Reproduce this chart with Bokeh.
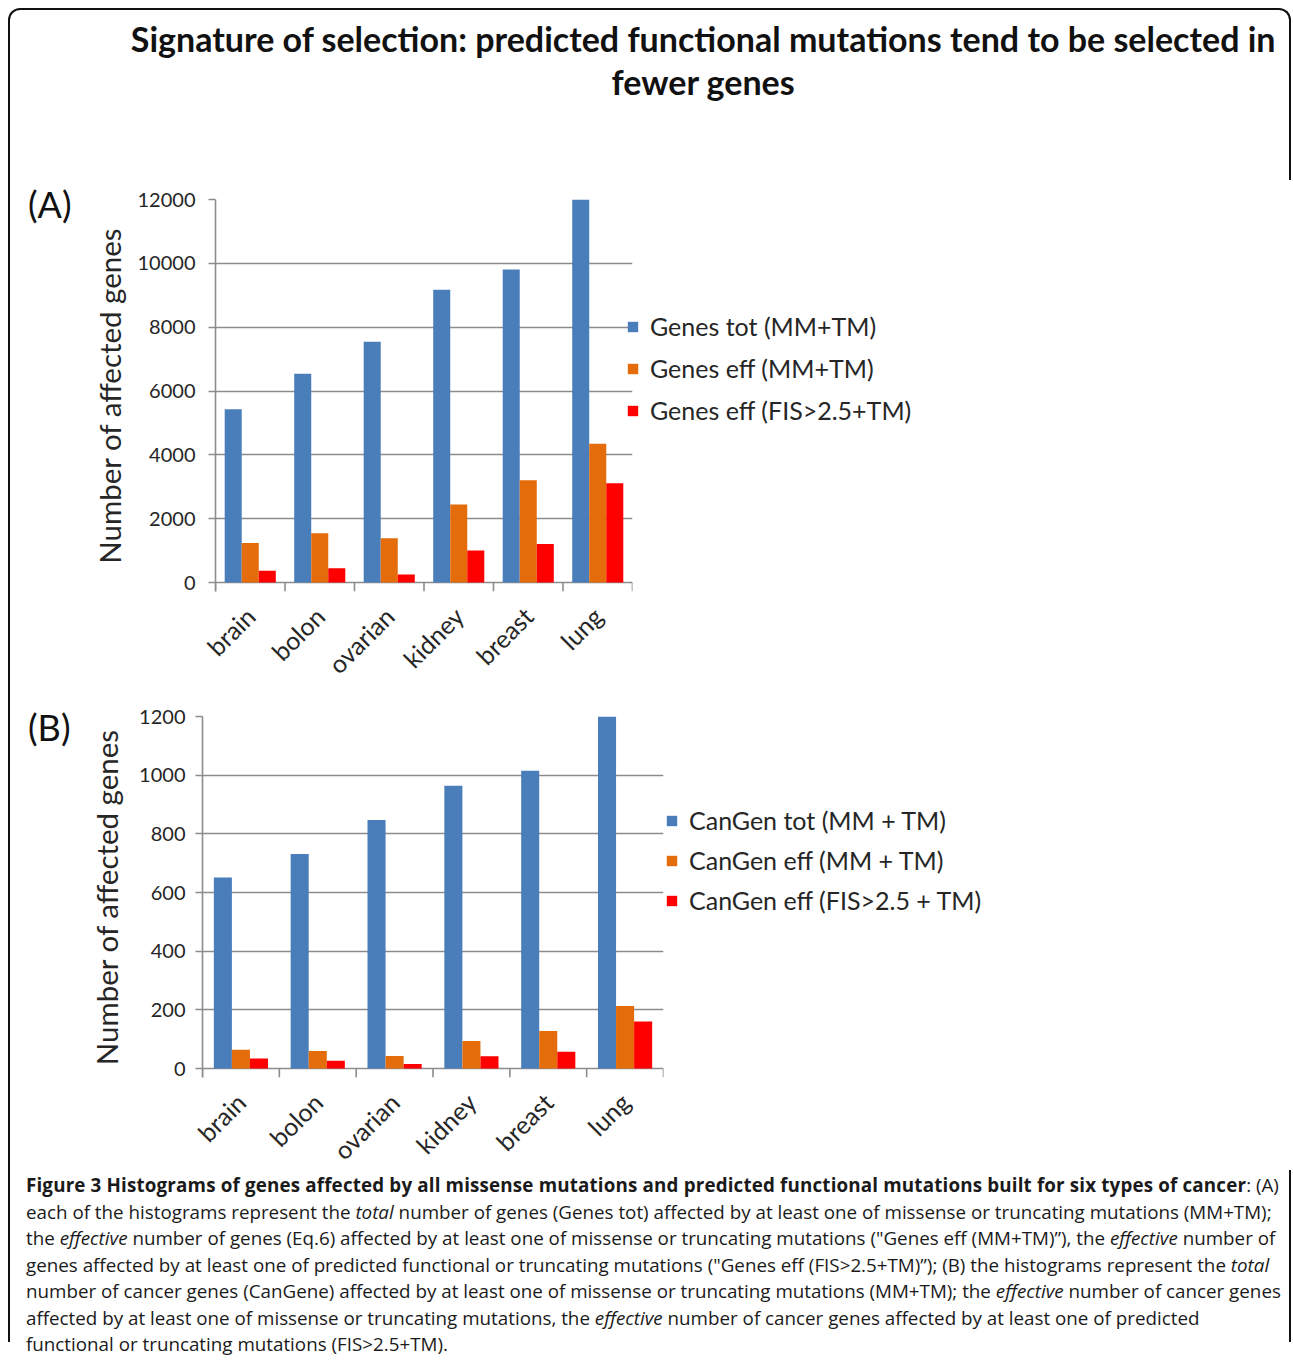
import math
from bokeh.plotting import figure
from bokeh.models import (Range1d, FactorRange, LinearAxis, CategoricalAxis, FixedTicker,
                          Legend, LegendItem, Label, Div, ColumnDataSource, Grid)
from bokeh.transform import dodge
from bokeh.embed import file_html
from bokeh.resources import INLINE

# ---------------- data ----------------
cancers = ["brain", "bolon", "ovarian", "kidney", "breast", "lung"]

genes_tot = [5430, 6540, 7540, 9170, 9810, 12080]
genes_eff = [1240, 1540, 1390, 2440, 3200, 4350]
genes_fis = [370, 450, 250, 1000, 1210, 3110]
a_series = ["Genes tot (MM+TM)", "Genes eff (MM+TM)", "Genes eff (FIS>2.5+TM)"]
a_ticks = [0, 2000, 4000, 6000, 8000, 10000, 12000]

cangen_tot = [651, 731, 847, 964, 1015, 1200]
cangen_eff = [64, 60, 43, 94, 128, 213]
cangen_fis = [34, 26, 15, 42, 57, 160]
b_series = ["CanGen tot (MM + TM)", "CanGen eff (MM + TM)", "CanGen eff (FIS>2.5 + TM)"]
b_ticks = [0, 200, 400, 600, 800, 1000, 1200]

y_label = "Number of affected genes"
title_lines = ["Signature of selection: predicted functional mutations tend to be selected in",
               "fewer genes"]

caption_lines = [
    "<b style=\"letter-spacing:0.16px\">Figure 3 Histograms of genes affected by all missense mutations and predicted functional mutations built for six types of cancer</b>: (A)",
    "each of the histograms represent the <i>total</i> number of genes (Genes tot) affected by at least one of missense or truncating mutations (MM+TM);",
    "the <i>effective</i> number of genes (Eq.6) affected by at least one of missense or truncating mutations (\"Genes eff (MM+TM)\u201d), the <i>effective</i> number of",
    "genes affected by at least one of predicted functional or truncating mutations (\"Genes eff (FIS&gt;2.5+TM)\u201d); (B) the histograms represent the <i>total</i>",
    "number of cancer genes (CanGene) affected by at least one of missense or truncating mutations (MM+TM); the <i>effective</i> number of cancer genes",
    "affected by at least one of missense or truncating mutations, the <i>effective</i> number of cancer genes affected by at least one of predicted",
    "functional or truncating mutations (FIS&gt;2.5+TM).",
]

colors = ["#4A7EBB", "#E46C0A", "#FF0000"]
GRAY = "#8C8C8C"
TXT = "#262626"
FONT = "Lato"
W = 1279
TICK = 9  # px of room below zero for the category boundary ticks
LEFT_SIDE = {"border-left": "2px solid #111", "margin-left": "8px"}


def make_panel(vals, names, ticks, ymax, L, T, FW, FH, BOT,
               leg_x, leg_y, bw, tick_standoff, label_standoff, spacing):
    FHt = FH + TICK
    R = W - L - FW
    ystart = -TICK * ymax / FH
    p = figure(x_range=FactorRange(*cancers), y_range=Range1d(ystart, ymax),
               frame_width=FW, frame_height=FHt, min_border_left=L, min_border_right=R,
               min_border_top=T, min_border_bottom=BOT,
               x_axis_location=None, y_axis_location=None,
               output_backend="svg", toolbar_location=None, styles=dict(LEFT_SIDE))
    p.outline_line_color = None
    p.background_fill_color = None
    p.border_fill_color = None
    for g in p.grid:
        g.visible = False

    src = ColumnDataSource(dict(cancer=cancers, s0=vals[0], s1=vals[1], s2=vals[2]))
    offsets = [-bw, 0.0, bw]
    rends = []
    for i in range(3):
        r = p.vbar(x=dodge("cancer", offsets[i], range=p.x_range), top="s%d" % i,
                   width=bw, source=src, fill_color=colors[i], line_color=None)
        rends.append(r)

    grid = Grid(dimension=1, ticker=FixedTicker(ticks=ticks),
                grid_line_color=GRAY, grid_line_width=1.6)
    p.add_layout(grid)

    # category boundary tick marks below the zero line
    p.segment(x0=dodge("cancer", -0.5, range=p.x_range), x1=dodge("cancer", -0.5, range=p.x_range),
              y0=0, y1=ystart, source=src, line_color=GRAY, line_width=1.6)
    p.segment(x0=dodge("cancer", 0.5, range=p.x_range), x1=dodge("cancer", 0.5, range=p.x_range),
              y0=0, y1=ystart, source=ColumnDataSource(dict(cancer=cancers[-1:])),
              line_color=GRAY, line_width=1.6)

    yax = LinearAxis(ticker=FixedTicker(ticks=ticks), axis_label=y_label)
    yax.axis_line_color = GRAY
    yax.axis_line_width = 1.6
    yax.major_tick_line_color = GRAY
    yax.major_tick_line_width = 1.6
    yax.major_tick_out = 7
    yax.major_tick_in = 0
    yax.minor_tick_line_color = None
    yax.major_label_text_font = FONT
    yax.major_label_text_font_size = "20px"
    yax.major_label_text_color = TXT
    yax.major_label_standoff = tick_standoff
    yax.axis_label_text_font = FONT
    yax.axis_label_text_font_size = "29.5px"
    yax.axis_label_text_font_style = "normal"
    yax.axis_label_text_color = TXT
    yax.axis_label_standoff = label_standoff
    p.add_layout(yax, "left")

    cax = CategoricalAxis()
    cax.axis_line_color = None
    cax.major_tick_line_color = None
    cax.major_tick_out = 0
    cax.major_tick_in = 0
    cax.major_label_orientation = math.pi / 4
    cax.major_label_text_font = FONT
    cax.major_label_text_font_size = "25px"
    cax.major_label_text_color = TXT
    cax.major_label_standoff = 20
    p.add_layout(cax, "below")

    legend = Legend(items=[LegendItem(label=names[i], renderers=[rends[i]]) for i in range(3)],
                    location=(leg_x, leg_y))
    legend.border_line_color = None
    legend.background_fill_alpha = 0
    legend.padding = 0
    legend.margin = 0
    legend.glyph_width = 13
    legend.glyph_height = 13
    legend.label_standoff = 11
    legend.label_height = 20
    legend.spacing = spacing
    legend.label_text_font = FONT
    legend.label_text_font_size = "25px"
    legend.label_text_color = TXT
    p.add_layout(legend, "right")
    return p


# Title figure (page y 10..180)
TH = 170
title_styles = {"border-top": "2px solid #111", "border-left": "2px solid #111",
                "border-right": "2px solid #111", "border-radius": "12px 12px 0 0",
                "margin-left": "8px", "margin-top": "8px"}
pt = figure(frame_width=W, frame_height=TH, x_range=Range1d(0, W), y_range=Range1d(0, TH),
            x_axis_location=None, y_axis_location=None, min_border=0,
            min_border_left=0, min_border_right=0, min_border_top=0, min_border_bottom=0,
            output_backend="svg", toolbar_location=None, styles=title_styles)
pt.outline_line_color = None
pt.border_fill_color = None
pt.background_fill_color = None
for g in pt.grid:
    g.visible = False
pt.add_layout(Label(x=693, y=TH - 28, text=title_lines[0], text_font=FONT,
                    text_font_style="bold", text_font_size="34px", text_color="#111111",
                    text_align="center", text_baseline="alphabetic"))
pt.add_layout(Label(x=693, y=TH - 71, text=title_lines[1], text_font=FONT,
                    text_font_style="bold", text_font_size="34px", text_color="#111111",
                    text_align="center", text_baseline="alphabetic"))

# Panel A: page y 180..701 ; frame x 215..632, y 199..582 (+ tick room)
pa = make_panel([genes_tot, genes_eff, genes_fis], a_series, a_ticks, 12000,
                L=205, T=19, FW=417, FH=383, BOT=110,
                leg_x=-6, leg_y=161 + TICK - 4, bw=0.245,
                tick_standoff=13, label_standoff=8, spacing=12)

# Panel B: page y 701..1187 ; frame x 202..663, y 716..1068 (+ tick room)
pb = make_panel([cangen_tot, cangen_eff, cangen_fis], b_series, b_ticks, 1200,
                L=192, T=15, FW=461, FH=352, BOT=110,
                leg_x=2, leg_y=157 + TICK - 4, bw=0.235,
                tick_standoff=10, label_standoff=12, spacing=10)

cap_styles = {"border-left": "2px solid #111", "border-right": "2px solid #111",
              "margin-left": "8px", "margin-top": "-17px"}
cap = Div(text='<div style="padding-left:16px;padding-top:2px;font-family:\'Open Sans\';'
               'font-size:18.8px;line-height:26.5px;white-space:nowrap;color:#1a1a1a;">'
               + "<br>".join(caption_lines) + "</div>",
          width=W + 4, height=172, styles=cap_styles)

lab_a = Div(text='<span style="font-family:Lato;font-size:36px;color:#111;">(A)</span>',
            width=80, height=46,
            styles={"position": "absolute", "left": "23px", "top": "174px"})
lab_b = Div(text='<span style="font-family:Lato;font-size:36px;color:#111;">(B)</span>',
            width=80, height=46,
            styles={"position": "absolute", "left": "23px", "top": "697px"})

# right edge of the outer box alongside the two charts
right_edge = Div(text='<div style="width:2px;height:992px;background:#111111;"></div>',
                 width=2, height=992,
                 styles={"position": "absolute", "left": "1289px", "top": "180px",
                         "z-index": "10"})

open("out.html", "w").write(file_html([pt, pa, pb, cap, lab_a, lab_b, right_edge], INLINE))
